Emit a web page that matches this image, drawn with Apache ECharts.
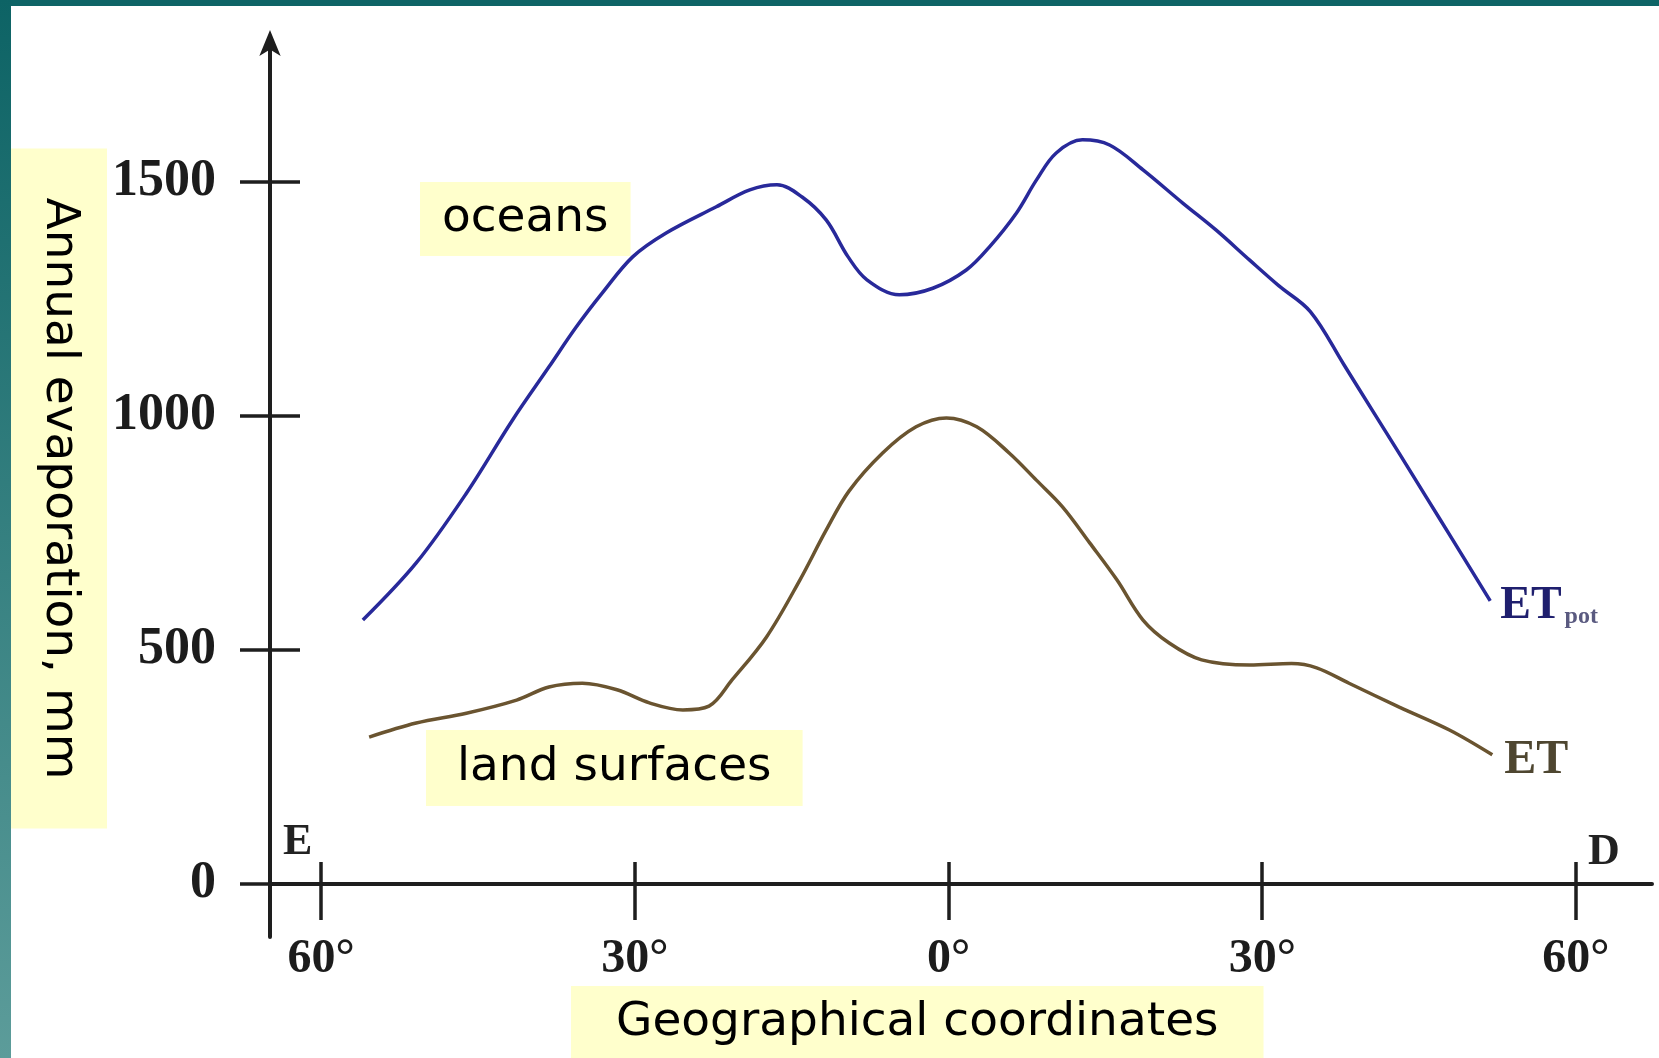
<!DOCTYPE html>
<html>
<head>
<meta charset="utf-8">
<title>Annual evaporation</title>
<script src="https://cdn.jsdelivr.net/npm/echarts@6/dist/echarts.min.js"></script>
<style>
  html, body { margin: 0; padding: 0; background: #fff; }
  #chart { width: 1659px; height: 1058px; }
</style>
</head>
<body>
<div id="chart"></div>
<script>
// latitude (deg, south negative) and annual evaporation (mm)
var oceanLat = [-56.0, -50.9, -46.1, -41.7, -38.2, -35.6, -33.1, -30.2, -27.0, -22.2, -19.0, -16.4, -14.0, -11.7, -9.6, -7.8, -4.7, -1.5, 1.7, 3.9, 6.5, 8.4, 10.3, 12.8, 15.4, 18.6, 22.4, 25.6, 28.8, 31.6, 34.6, 37.8, 40.5, 43.1, 45.7, 48.2, 51.8];
var oceanEvap = [564, 686, 835, 991, 1105, 1190, 1263, 1340, 1391, 1447, 1483, 1494, 1468, 1419, 1340, 1291, 1259, 1273, 1312, 1361, 1434, 1504, 1562, 1590, 1579, 1526, 1455, 1397, 1333, 1278, 1223, 1110, 1013, 920, 826, 736, 605];

var landLat = [-55.4, -50.9, -46.1, -41.3, -38.2, -35.0, -31.7, -28.6, -25.4, -22.9, -20.7, -17.4, -14.2, -11.7, -9.5, -6.3, -3.1, -0.2, 2.7, 5.8, 8.4, 10.9, 13.5, 16.1, 18.6, 21.1, 24.2, 28.8, 32.8, 35.2, 38.3, 43.1, 47.9, 52.0];
var landEvap = [314, 344, 365, 393, 421, 429, 415, 387, 372, 380, 436, 528, 650, 756, 840, 921, 977, 996, 977, 921, 863, 806, 729, 650, 564, 515, 479, 468, 471, 462, 429, 378, 329, 276];

var latTicks = [-60, -30, 0, 30, 60];
var latTickLabels = ['60°', '30°', '0°', '30°', '60°'];
var evapTicks = [0, 500, 1000, 1500];

function pairs(xs, ys) {
  return xs.map(function (x, i) { return [x, ys[i]]; });
}

var chart = echarts.init(document.getElementById('chart'));

var boxFont = { fontFamily: 'DejaVu Sans', fontWeight: 'normal', fontSize: 47, lineHeight: 48, color: '#000' };
var axisColor = '#1e1e1e';

var option = {
  animation: false,
  backgroundColor: '#fff',
  grid: { left: 270, right: 7, top: 40, bottom: 121, outerBoundsMode: 'none' },
  title: [
    { text: 'oceans', left: 420, top: 182, padding: [13, 22], backgroundColor: '#ffffcc', textStyle: boxFont },
    { text: 'land surfaces', left: 426, top: 730, padding: [14, 31], backgroundColor: '#ffffcc', textStyle: boxFont },
    { text: 'Geographical coordinates', left: 571, top: 986, padding: [13, 45, 14, 45], backgroundColor: '#ffffcc', textStyle: boxFont }
  ],
  xAxis: [
    {
      type: 'value', position: 'bottom', min: -64.88, max: 67.27,
      splitLine: { show: false },
      axisLine: { onZero: true, lineStyle: { color: axisColor, width: 4 } },
      axisTick: { show: true, inside: false, length: 36, customValues: latTicks, lineStyle: { color: axisColor, width: 3.5 } },
      axisLabel: {
        customValues: latTicks, margin: -1,
        fontFamily: 'Liberation Serif', fontWeight: 'bold', fontSize: 48, color: '#1c1c1c',
        formatter: function (v) { return latTickLabels[latTicks.indexOf(v)]; }
      }
    },
    {
      type: 'value', position: 'bottom', min: -64.88, max: 67.27,
      splitLine: { show: false },
      axisLine: { onZero: true, lineStyle: { opacity: 0 } },
      axisTick: { show: true, inside: true, length: 22, customValues: latTicks, lineStyle: { color: axisColor, width: 3.5 } },
      axisLabel: { show: false }
    }
  ],
  yAxis: [
    {
      type: 'value', position: 'left', min: -113.2, max: 1803.4,
      splitLine: { show: false },
      axisLine: {
        show: true, onZero: false,
        symbol: ['none', 'arrow'], symbolSize: [16, 26], symbolOffset: [0, 10],
        lineStyle: { color: axisColor, width: 4 }
      },
      axisTick: { show: true, inside: false, length: 30, customValues: evapTicks, lineStyle: { color: axisColor, width: 3.5 } },
      axisLabel: {
        customValues: evapTicks, margin: 54,
        fontFamily: 'Liberation Serif', fontWeight: 'bold', fontSize: 52, color: '#1c1c1c',
        formatter: function (v) { return String(v); }
      },
      name: 'Annual evaporation, mm',
      nameLocation: 'middle',
      nameGap: 163,
      nameRotate: -90,
      nameMoveOverlap: false,
      nameTextStyle: {
        fontFamily: 'DejaVu Sans', fontSize: 47, lineHeight: 48, color: '#000',
        backgroundColor: '#ffffcc', padding: [24, 49]
      }
    },
    {
      type: 'value', position: 'left', min: -113.2, max: 1803.4,
      splitLine: { show: false },
      axisLine: { show: true, onZero: false, lineStyle: { opacity: 0 } },
      axisTick: { show: true, inside: true, length: 30, customValues: evapTicks, lineStyle: { color: axisColor, width: 3.5 } },
      axisLabel: { show: false }
    }
  ],
  series: [
    {
      name: 'ETpot', type: 'line', smooth: 0.35, showSymbol: false, symbol: 'none',
      xAxisIndex: 0, yAxisIndex: 0,
      data: pairs(oceanLat, oceanEvap),
      lineStyle: { color: '#28299a', width: 3.5 },
      endLabel: {
        show: true, distance: 10, offset: [0, 5],
        formatter: '{e|ET}{s|pot}',
        rich: {
          e: { fontFamily: 'Liberation Serif', fontWeight: 'bold', fontSize: 46, color: '#1f1f6e' },
          s: { fontFamily: 'Liberation Serif', fontWeight: 'bold', fontSize: 24, color: '#5a5a80', padding: [22, 0, 0, 3] }
        }
      }
    },
    {
      name: 'ET', type: 'line', smooth: 0.35, showSymbol: false, symbol: 'none',
      xAxisIndex: 0, yAxisIndex: 0,
      data: pairs(landLat, landEvap),
      lineStyle: { color: '#6a5430', width: 3.5 },
      endLabel: {
        show: true, distance: 12, offset: [0, 6],
        formatter: 'ET',
        fontFamily: 'Liberation Serif', fontWeight: 'bold', fontSize: 48, color: '#4e4630'
      }
    }
  ],
  graphic: [
    // teal slide frame
    { type: 'rect', left: 0, top: 0, z: -10, shape: { width: 1659, height: 6 }, style: { fill: '#0e6466' } },
    {
      type: 'rect', left: 0, top: 0, z: -10, shape: { width: 11, height: 1058 },
      style: { fill: new echarts.graphic.LinearGradient(0, 0, 0, 1, [{ offset: 0, color: '#0d6365' }, { offset: 1, color: '#5c9c9a' }]) }
    },
    { type: 'text', left: 283, top: 821, style: { text: 'E', font: 'bold 44px "Liberation Serif"', fill: '#222' } },
    { type: 'text', left: 1588, top: 831, style: { text: 'D', font: 'bold 44px "Liberation Serif"', fill: '#222' } }
  ]
};

chart.setOption(option);
</script>
</body>
</html>
